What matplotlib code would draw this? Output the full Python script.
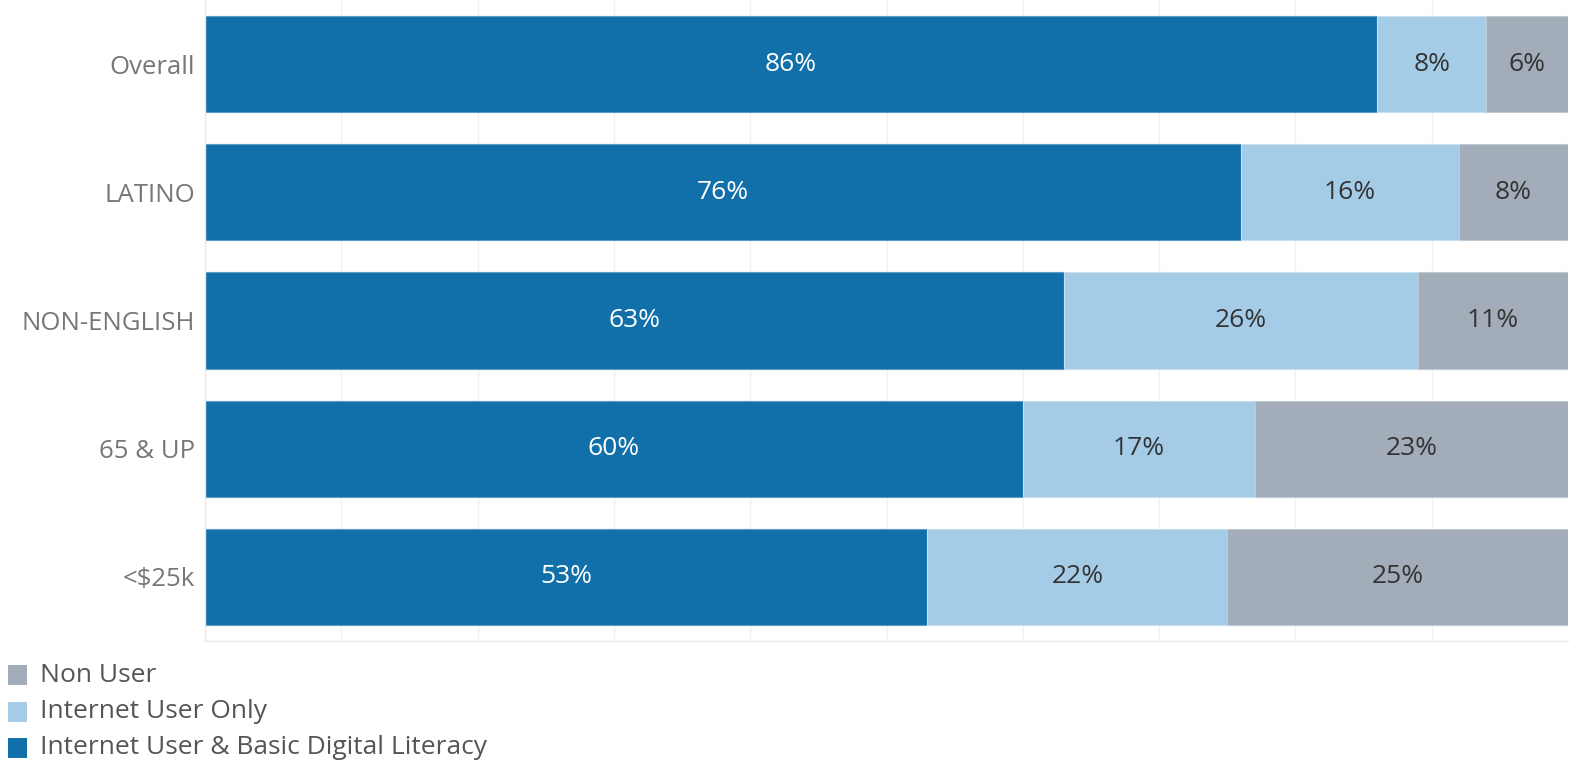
import matplotlib.pyplot as plt
from matplotlib.patches import Rectangle
import numpy as np

plt.rcParams["font.family"] = ["Open Sans", "DejaVu Sans"]

categories = ["Overall", "LATINO", "NON-ENGLISH", "65 & UP", "<$25k"]
literacy = [86, 76, 63, 60, 53]
internet_only = [8, 16, 26, 17, 22]
non_user = [6, 8, 11, 23, 25]

series_names = ["Internet User & Basic Digital Literacy", "Internet User Only", "Non User"]
colors = ["#1170aa", "#a5cce7", "#a3acb9"]
edge_colors = ["#5b9bc8", "#c8dff0", "#c3c9d1"]
text_colors = ["white", "#333333", "#333333"]

W, H = 1569, 765
fig = plt.figure(figsize=(W / 100, H / 100), dpi=100)
ax = fig.add_axes([205 / W, (H - 641) / H, (1568 - 205) / W, 641 / H])

y = np.arange(len(categories))
left = np.zeros(len(categories))
for values, name, color, edge, tcolor in zip([literacy, internet_only, non_user], series_names, colors, edge_colors, text_colors):
    vals = np.array(values, dtype=float)
    ax.barh(y, vals, left=left, height=0.75, color=color, edgecolor=edge, linewidth=0.8, zorder=2, label=name)
    for yi, l, v in zip(y, left, vals):
        ax.text(l + v / 2, yi, f"{v:.0f}%", color=tcolor, fontsize=19, ha="center", va="center", zorder=3)
    left += vals

ax.set_xlim(0, 100)
ax.set_ylim(len(categories) - 0.5, -0.5)
ax.set_xticks(np.arange(0, 101, 10))
ax.set_xticklabels([])
ax.tick_params(axis="x", length=0)
ax.tick_params(axis="y", length=0, pad=7)
ax.set_yticks(y)
ax.set_yticklabels(categories, fontsize=18.5, color="#777777")
ax.grid(axis="x", color="#f0f0f0", linewidth=1, zorder=0)
for side in ["top", "right"]:
    ax.spines[side].set_visible(False)
for side in ["left", "bottom"]:
    ax.spines[side].set_color("#e8e8e8")
    ax.spines[side].set_linewidth(1)

# legend drawn by hand, top to bottom in reverse stacking order
for i, idx in enumerate([2, 1, 0]):
    yc = 675 + i * 36.5
    fig.patches.append(Rectangle((8 / W, (H - yc - 10) / H), 19 / W, 20 / H, transform=fig.transFigure,
                                 facecolor=colors[idx], edgecolor="none"))
    fig.text(40 / W, (H - yc) / H, series_names[idx], fontsize=19, color="#555555", va="center", ha="left")

fig.savefig("out.png", dpi=100, facecolor="white")
